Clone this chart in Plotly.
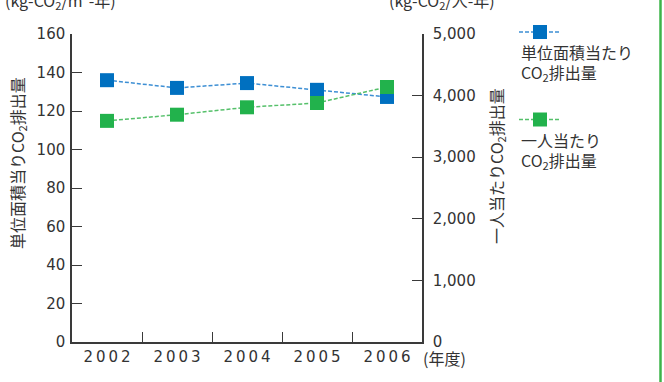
import plotly.graph_objects as go

# Fiscal years
years = ["2002", "2003", "2004", "2005", "2006"]
year_labels = ["\u2009".join(y) for y in years]

# CO2 emissions per unit floor area (kg-CO2/m2-year), left axis
per_area = [136, 132, 134.5, 131, 127.3]
# CO2 emissions per person (kg-CO2/person-year), right axis
per_person = [3590, 3690, 3810, 3880, 4140]

left_ticks = [0, 20, 40, 60, 80, 100, 120, 140, 160]
right_ticks = [0, 1000, 2000, 3000, 4000, 5000]
right_ticktext = ["0", "1,000", "2,000", "3,000", "4,000", "5,000"]

BLUE = "#0070c0"
BLUE_LINE = "#3d8fd4"
GREEN = "#22b24c"
GREEN_LINE = "#55c06a"
AXIS = "#3a3a3a"
TEXT = "#333333"
NUM_FONT = "DejaVu Sans"
JP_FONT = "Noto Sans CJK JP"

# figure geometry (pixels)
W, H = 664, 382
L, R, T, B = 72, 242, 34, 40
PW, PH = W - L - R, H - T - B


def px(x):
    return (x - L) / PW


def py(y):
    return (H - B - y) / PH


fig = go.Figure()

fig.add_trace(go.Scatter(
    x=years, y=per_area, mode="lines+markers", yaxis="y",
    line=dict(color=BLUE_LINE, width=1.5, dash="4px,2px"),
    marker=dict(symbol="square", size=14, color=BLUE),
    showlegend=False, cliponaxis=False,
))
fig.add_trace(go.Scatter(
    x=years, y=per_person, mode="lines+markers", yaxis="y2",
    line=dict(color=GREEN_LINE, width=1.5, dash="4px,2px"),
    marker=dict(symbol="square", size=14, color=GREEN),
    showlegend=False, cliponaxis=False,
))

axis_common = dict(
    showgrid=False, zeroline=False, showline=True, linecolor=AXIS, linewidth=1.5,
    ticks="inside", ticklen=10, tickwidth=1.2, tickcolor=AXIS,
    tickfont=dict(family=NUM_FONT, size=15, color=TEXT),
)

fig.update_layout(
    width=W, height=H,
    margin=dict(l=L, r=R, t=T, b=B, pad=0),
    paper_bgcolor="white", plot_bgcolor="white",
    xaxis=dict(
        **axis_common, type="category", categoryorder="array", categoryarray=years,
        tickvals=years, ticktext=year_labels, tickson="boundaries",
        range=[-0.5, 4.5],
    ),
    yaxis=dict(
        **axis_common, range=[0, 160], tickvals=left_ticks,
        ticklabelstandoff=2,
    ),
    yaxis2=dict(
        **axis_common, overlaying="y", side="right", range=[0, 5000],
        tickvals=right_ticks, ticktext=right_ticktext,
        ticklabelstandoff=6,
    ),
)

annotations = [
    # unit labels above each axis
    dict(text="(kg-CO<sub>2</sub>/m<sup>2</sup>-年)", x=px(60), y=py(15), yanchor="bottom"),
    dict(text="(kg-CO<sub>2</sub>/人-年)", x=px(442), y=py(15), yanchor="bottom"),
    # axis titles
    dict(text="単位面積当りCO<sub>2</sub>排出量", x=px(18), y=py(163), textangle=-90),
    dict(text="一人当たりCO<sub>2</sub>排出量", x=px(496), y=py(166), textangle=-90),
    # fiscal year unit
    dict(text="(年度)", x=px(445), y=py(358)),
    # legend texts
    dict(text="単位面積当たり", x=px(519), y=py(52.5), xanchor="left"),
    dict(text="CO<sub>2</sub>排出量", x=px(519), y=py(72.5), xanchor="left"),
    dict(text="一人当たり", x=px(519), y=py(140), xanchor="left"),
    dict(text="CO<sub>2</sub>排出量", x=px(519), y=py(160), xanchor="left"),
]
for a in annotations:
    a.setdefault("xanchor", "center")
    a.setdefault("yanchor", "middle")
    fig.add_annotation(
        xref="paper", yref="paper", showarrow=False,
        font=dict(family=JP_FONT, size=16, color=TEXT), **a,
    )

shapes = []
# legend glyphs: dashed line with a square marker
for yc, col, lcol in [(32, BLUE, BLUE_LINE), (119.5, GREEN, GREEN_LINE)]:
    shapes.append(dict(type="line", x0=px(519), x1=px(561), y0=py(yc), y1=py(yc),
                       line=dict(color=lcol, width=1.5, dash="4px,2px")))
    shapes.append(dict(type="rect", x0=px(533), x1=px(547), y0=py(yc - 7), y1=py(yc + 7),
                       line=dict(width=0), fillcolor=col))
# green rule along the right edge
shapes.append(dict(type="line", x0=px(660.5), x1=px(660.5), y0=py(-5), y1=py(H + 5),
                   line=dict(color="#3cb449", width=2.5)))
for s in shapes:
    fig.add_shape(xref="paper", yref="paper", layer="above", **s)

fig.write_html("out.html")
